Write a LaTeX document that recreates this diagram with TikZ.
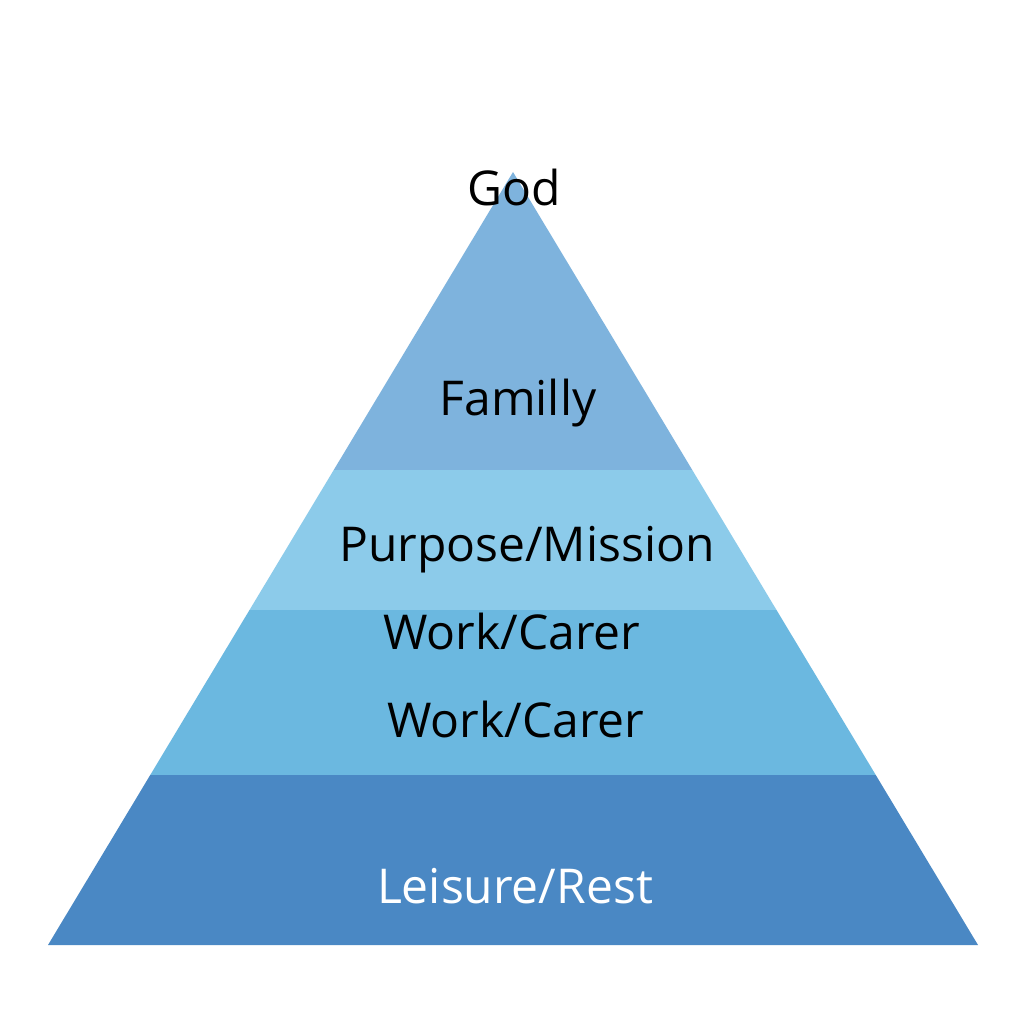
\documentclass[tikz,border=0pt]{standalone}
\usepackage{fontspec}
\setmainfont{Open Sans}
\begin{document}
\begin{tikzpicture}[x=1pt,y=-1pt,lbl/.style={font=\fontsize{48}{48}\selectfont,text=black}]
\useasboundingbox[fill=white] (0,0) rectangle (1024,1024);
\def\L#1{(513-0.6016*(#1-172))}
\def\R#1{(513+0.6016*(#1-172))}
\fill[fill={rgb,255:red,126;green,179;blue,221}] (513,172) -- ({\R{470}},470) -- ({\L{470}},470) -- cycle;
\fill[fill={rgb,255:red,140;green,203;blue,234}] ({\L{470}},470) -- ({\R{470}},470) -- ({\R{610}},610) -- ({\L{610}},610) -- cycle;
\fill[fill={rgb,255:red,107;green,184;blue,224}] ({\L{610}},610) -- ({\R{610}},610) -- ({\R{775}},775) -- ({\L{775}},775) -- cycle;
\fill[fill={rgb,255:red,74;green,136;blue,196}] ({\L{775}},775) -- ({\R{775}},775) -- (978,945) -- (48,945) -- cycle;
\node[lbl] (god) at (514,188) {God};
\node[lbl] (fam) at (518,403) {Familly};
\node[lbl] (pur) at (527,550) {Purpose/Mission};
\node[lbl] (w1) at (512,631) {Work/Carer};
\node[lbl] (w2) at (516,719) {Work/Carer};
\node[lbl,text=white] (lr) at (515,886) {Leisure/Rest};
\end{tikzpicture}
\end{document}
